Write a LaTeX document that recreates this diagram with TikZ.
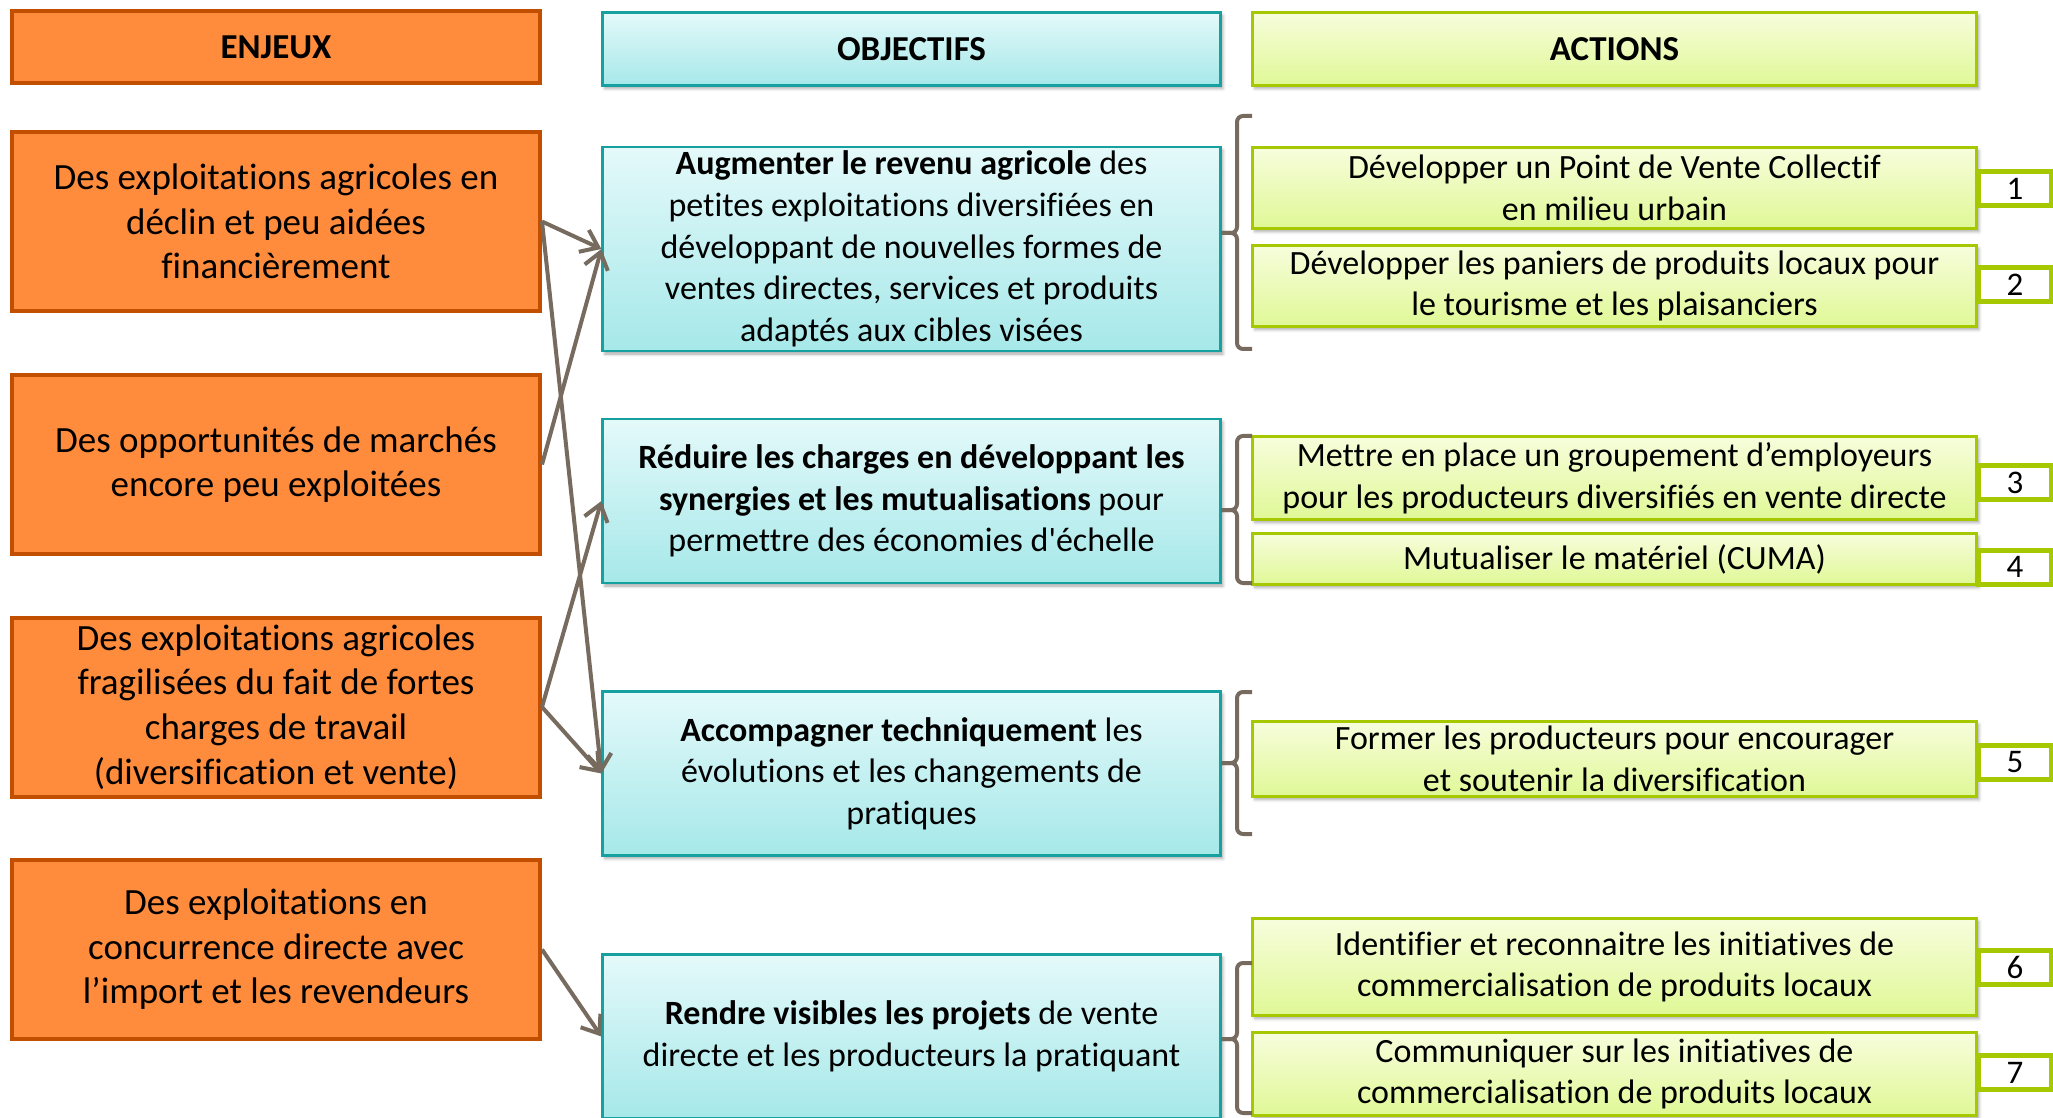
\documentclass[tikz,border=0pt]{standalone}
\usepackage{fontspec}
\setmainfont[Ligatures={TeXOff,CommonOff,ContextualOff},Contextuals=AlternateOff]{Carlito}
\usetikzlibrary{arrows.meta,shadows.blur}
\definecolor{eFill}{HTML}{FF8C3C}
\definecolor{eLine}{HTML}{C24E00}
\definecolor{oTop}{HTML}{E4F9FA}
\definecolor{oBot}{HTML}{A6E8E9}
\definecolor{oLine}{HTML}{16A0A0}
\definecolor{aTop}{HTML}{F7FDDC}
\definecolor{aBot}{HTML}{E0F896}
\definecolor{aLine}{HTML}{A6C800}
\definecolor{conn}{HTML}{766B5E}
\begin{document}
\begin{tikzpicture}[x=0.5pt,y=-0.5pt,
  shad/.style={blur shadow={shadow xshift=1.2pt,shadow yshift=-1.5pt,shadow blur radius=1.5pt,shadow opacity=35}},
  ebox/.style={draw=eLine, line width=2pt, fill=eFill, inner sep=0pt, align=center,
    font=\fontsize{18.5}{22.3}\selectfont, minimum width=264pt, minimum height=89.5pt},
  ehead/.style={minimum height=36pt, font=\fontsize{17.5}{21}\selectfont\bfseries},
  obox/.style={shad, draw=oLine, line width=1.1pt, top color=oTop, bottom color=oBot, inner sep=0pt,
    align=center, font=\fontsize{17}{20.8}\selectfont, minimum width=309pt, minimum height=82pt},
  ohead/.style={minimum height=36.5pt, font=\fontsize{17.5}{21}\selectfont\bfseries},
  abox/.style={shad, draw=aLine, line width=1.1pt, top color=aTop, bottom color=aBot, inner sep=0pt,
    align=center, font=\fontsize{17}{20.8}\selectfont, minimum width=362pt},
  nbox/.style={draw=aLine, line width=2.5pt, fill=white, inner sep=0pt,
    font=\fontsize{16.5}{19}\selectfont, minimum width=36.5pt, minimum height=17pt},
  arr/.style={draw=conn, line width=2pt, -{Straight Barb[length=8pt,width=12pt]}},
  brk/.style={draw=conn, line width=2pt, rounded corners=3pt}
]
\useasboundingbox (0,0) rectangle (2053,1118);

% headers
\node[ebox, ehead] (eh) at (276,47.5) {ENJEUX};
\node[obox, ohead] (oh) at (911.5,49) {OBJECTIFS};
\node[abox, ohead] (ah) at (1614.5,49) {ACTIONS};

% enjeux
\node[ebox] (e1) at (276,221.5) {Des exploitations agricoles en\\déclin et peu aidées\\financièrement};
\node[ebox] (e2) at (276,464.5) {Des opportunités de marchés\\encore peu exploitées};
\node[ebox] (e3) at (276,707) {Des exploitations agricoles\\fragilisées du fait de fortes\\charges de travail\\(diversification et vente)};
\node[ebox] (e4) at (276,949.5) {Des exploitations en\\concurrence directe avec\\l’import et les revendeurs};

% objectifs
\node[obox, minimum height=102pt] (o1) at (911.5,249) {\textbf{Augmenter le revenu agricole} des\\petites exploitations diversifiées en\\développant de nouvelles formes de\\ventes directes, services et produits\\adaptés aux cibles visées};
\node[obox] (o2) at (911.5,501) {\textbf{Réduire les charges en développant les}\\\textbf{synergies et les mutualisations} pour\\permettre des économies d'échelle};
\node[obox] (o3) at (911.5,773.5) {\textbf{Accompagner techniquement} les\\évolutions et les changements de\\pratiques};
\node[obox] (o4) at (911.5,1036.5) {\textbf{Rendre visibles les projets} de vente\\directe et les producteurs la pratiquant};

% actions
\node[abox, minimum height=40.5pt] (a1) at (1614.5,188) {Développer un Point de Vente Collectif\\en milieu urbain};
\node[abox, minimum height=40.5pt] (a2) at (1614.5,286) {Développer les paniers de produits locaux pour\\le tourisme et les plaisanciers};
\node[abox, minimum height=41.5pt] (a3) at (1614.5,478) {Mettre en place un groupement d’employeurs\\pour les producteurs diversifiés en vente directe};
\node[abox, minimum height=25.5pt] (a4) at (1614.5,559) {Mutualiser le matériel (CUMA)};
\node[abox, minimum height=37.5pt] (a5) at (1614.5,759) {Former les producteurs pour encourager\\et soutenir la diversification};
\node[abox, minimum height=48.5pt] (a6) at (1614.5,967) {Identifier et reconnaitre les initiatives de\\commercialisation de produits locaux};
\node[abox, minimum height=41.5pt] (a7) at (1614.5,1074) {Communiquer sur les initiatives de\\commercialisation de produits locaux};

% numbers
\node[nbox] (n1) at (2015,188.5) {1};
\node[nbox] (n2) at (2015,284.5) {2};
\node[nbox] (n3) at (2015,482.5) {3};
\node[nbox] (n4) at (2015,567) {4};
\node[nbox] (n5) at (2015,762.5) {5};
\node[nbox] (n6) at (2015,967) {6};
\node[nbox] (n7) at (2015,1072.5) {7};

% arrows
\draw[arr] (e1.east) -- (o1.west);
\draw[arr] (e1.east) -- (o3.west);
\draw[arr] (e2.east) -- (o1.west);
\draw[arr] (e3.east) -- (o2.west);
\draw[arr] (e3.east) -- (o3.west);
\draw[arr] (e4.east) -- (o4.west);

% brackets
\foreach \t/\b/\m in {116/349/233, 436/583/510, 692/834/763, 963/1113/1039}{
  \draw[brk] (1252,\t) -- (1237,\t) -- (1237,\m) -- (1221,\m);
  \draw[brk] (1252,\b) -- (1237,\b) -- (1237,\m) -- (1221,\m);
}
\end{tikzpicture}
\end{document}
